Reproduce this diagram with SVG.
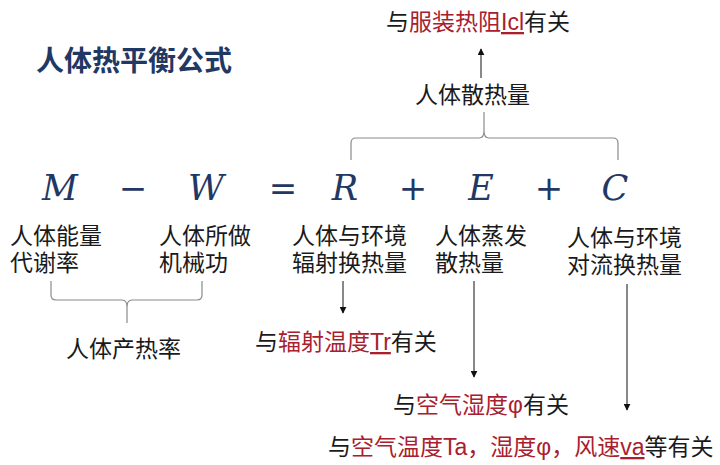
<svg xmlns="http://www.w3.org/2000/svg" width="720" height="465" viewBox="0 0 720 465">
<style>
.t{font-family:"Liberation Sans","Noto Sans CJK SC",sans-serif;font-size:23px;fill:#1a1a1a}
.r{fill:#A8202E}
.u{text-decoration:underline}
.title{font-family:"Liberation Sans","Noto Sans CJK SC",sans-serif;font-size:28px;font-weight:bold;fill:#1F3864}
.f{font-family:"DejaVu Serif","Liberation Serif",serif;font-style:italic;font-size:35px;fill:#1F3864;text-anchor:middle}
.op{font-family:"DejaVu Sans","Liberation Sans",sans-serif;font-size:34px;fill:#1F3864;text-anchor:middle}
.br{fill:none;stroke:#8a8a8a;stroke-width:1.2}
.ar{fill:none;stroke:#111;stroke-width:1}
</style>
<defs>
<marker id="ah" viewBox="0 0 10 10" refX="9" refY="5" markerWidth="7" markerHeight="7" orient="auto" markerUnits="userSpaceOnUse">
<path d="M0,0 L10,5 L0,10 z" fill="#111"/>
</marker>
</defs>
<rect width="720" height="465" fill="#fff"/>
<g id="title"><text class="title" x="36" y="71">人体热平衡公式</text></g>
<g id="formula">
<text class="f" x="60" y="200">M</text>
<text class="op" x="133" y="200">−</text>
<text class="f" x="206" y="200">W</text>
<text class="op" x="283" y="200">=</text>
<text class="f" x="345" y="200">R</text>
<text class="op" x="413" y="200">+</text>
<text class="f" x="481" y="200">E</text>
<text class="op" x="549" y="200">+</text>
<text class="f" x="615" y="200">C</text>
</g>
<g id="node-M"><text class="t" x="10" y="244">人体能量</text><text class="t" x="10" y="271">代谢率</text></g>
<g id="node-W"><text class="t" x="159" y="244">人体所做</text><text class="t" x="159" y="271">机械功</text></g>
<g id="node-R"><text class="t" x="292" y="244">人体与环境</text><text class="t" x="292" y="271">辐射换热量</text></g>
<g id="node-E"><text class="t" x="435" y="244">人体蒸发</text><text class="t" x="435" y="271">散热量</text></g>
<g id="node-C"><text class="t" x="567" y="246">人体与环境</text><text class="t" x="567" y="273">对流换热量</text></g>
<g id="node-heatprod"><text class="t" x="66" y="357">人体产热率</text></g>
<g id="node-heatloss"><text class="t" x="415" y="103">人体散热量</text></g>
<g id="note-Icl"><text class="t" x="386" y="30">与<tspan class="r">服装热阻<tspan class="u">Icl</tspan></tspan>有关</text></g>
<g id="note-Tr"><text class="t" x="255" y="350">与<tspan class="r">辐射温度<tspan class="u">Tr</tspan></tspan>有关</text></g>
<g id="note-phi"><text class="t" x="393" y="413">与<tspan class="r">空气湿度φ</tspan>有关</text></g>
<g id="note-conv"><text class="t" x="328" y="455">与<tspan class="r">空气温度Ta，湿度φ，风速<tspan class="u">va</tspan></tspan>等有关</text></g>
<g id="connectors">
<path class="br" d="M351,160 V143 Q351,138 356,138 H479 Q484,138 484,131 V112 M484,131 Q484,138 489,138 H613 Q618,138 618,143 V160"/>
<path class="br" d="M51,281 V295 Q51,300 56,300 H122 Q127,300 127,307 V323 M127,307 Q127,300 132,300 H197 Q202,300 202,295 V281"/>
<line class="ar" x1="481" y1="78" x2="481" y2="49" marker-end="url(#ah)"/>
<line class="ar" x1="343" y1="281" x2="343" y2="313" marker-end="url(#ah)"/>
<line class="ar" x1="474" y1="281" x2="474" y2="377" marker-end="url(#ah)"/>
<line class="ar" x1="627" y1="284" x2="627" y2="410" marker-end="url(#ah)"/>
</g>
</svg>
